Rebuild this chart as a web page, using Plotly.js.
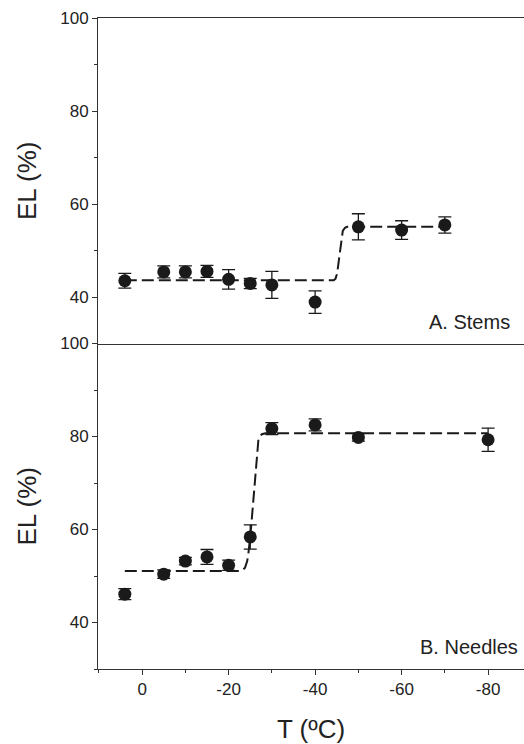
<!DOCTYPE html>
<html><head><meta charset="utf-8">
<script src="https://cdn.plot.ly/plotly-3.0.1.min.js"></script>
<style>html,body{margin:0;padding:0;background:#fff}#plot{width:524px;height:744px}</style>
</head><body><div id="plot"></div>
<script>
// Panel A: stems
const stemsT = [4, -5, -10, -15, -20, -25, -30, -40, -50, -60, -70];
const stemsEL = [43.5, 45.4, 45.4, 45.5, 43.8, 42.9, 42.6, 38.9, 55.1, 54.4, 55.5];
const stemsErr = [1.6, 1.3, 1.3, 1.3, 2.1, 1.1, 2.9, 2.4, 2.8, 2.0, 1.75];
const stemsFitT = [4, -44.3, -44.7, -45.1, -45.5, -45.9, -46.4, -46.9, -47.4, -71];
const stemsFitEL = [43.6, 43.6, 43.9, 45.1, 48, 50.8, 54.2, 54.9, 55.1, 55.1];

// Panel B: needles
const needlesT = [4, -5, -10, -15, -20, -25, -30, -40, -50, -80];
const needlesEL = [46.1, 50.4, 53.2, 54.1, 52.3, 58.4, 81.7, 82.5, 79.8, 79.3];
const needlesErr = [1.2, 0.9, 0.8, 1.6, 1.1, 2.6, 1.3, 1.3, 0.8, 2.5];
const needlesFitT = [4, -22.5, -23.2, -23.8, -24.3, -24.6, -25.1, -25.7, -26.4, -26.9, -27.3, -27.7, -28.5, -80];
const needlesFitEL = [51.1, 51.1, 51.3, 51.8, 53.2, 55.1, 59.4, 66.5, 75.1, 79.4, 80.1, 80.5, 80.7, 80.7];

const yTicks = [40, 60, 80, 100];
const xTicks = [0, -20, -40, -60, -80];
const panelLabels = ["A. Stems", "B. Needles"];

const ink = '#1a1a1a';
const axisCol = '#333';
const fitLine = {color: ink, width: 2, dash: '12px,5px', shape: 'linear'};
const marker = {symbol: 'circle', size: 13, color: ink};
const errStyle = arr => ({type: 'data', array: arr, visible: true, color: ink, thickness: 1.3, width: 6.5});

const traces = [
  {x: stemsFitT, y: stemsFitEL, xaxis: 'x2', yaxis: 'y2', mode: 'lines', line: fitLine, hoverinfo: 'skip'},
  {x: stemsT, y: stemsEL, xaxis: 'x2', yaxis: 'y2', mode: 'markers', marker: marker, error_y: errStyle(stemsErr)},
  {x: needlesFitT, y: needlesFitEL, xaxis: 'x', yaxis: 'y', mode: 'lines', line: fitLine, hoverinfo: 'skip'},
  {x: needlesT, y: needlesEL, xaxis: 'x', yaxis: 'y', mode: 'markers', marker: marker, error_y: errStyle(needlesErr)}
];

const font = {family: 'Arial, "Liberation Sans", sans-serif', color: '#222'};
const yBase = {
  range: [30, 100], tickvals: yTicks, ticks: 'outside', ticklen: 5, tickwidth: 1, tickcolor: axisCol,
  showline: true, linecolor: axisCol, linewidth: 1, showgrid: false, zeroline: false,
  tickfont: {size: 17, color: '#222'},
  minor: {dtick: 10, tick0: 0, ticks: 'outside', ticklen: 3, tickcolor: axisCol, showgrid: false},
  title: {text: 'EL (%)', font: {size: 26, color: '#222'}, standoff: 16}
};

const layout = {
  width: 524, height: 744,
  margin: {l: 98, r: 0, t: 18, b: 75},
  paper_bgcolor: '#fff', plot_bgcolor: '#fff',
  showlegend: false, font: font,
  xaxis: {
    range: [10.2, -88.3], tickvals: xTicks, ticktext: xTicks.map(String), anchor: 'y',
    ticks: 'outside', ticklen: 5, tickwidth: 1, tickcolor: axisCol,
    showline: true, linecolor: axisCol, linewidth: 1, showgrid: false, zeroline: false,
    tickfont: {size: 17, color: '#222'},
    minor: {dtick: 10, tick0: 0, ticks: 'outside', ticklen: 3, tickcolor: axisCol, showgrid: false},
    title: {text: 'T (ºC)', font: {size: 26, color: '#222'}, standoff: 24}
  },
  xaxis2: {
    range: [10.2, -88.3], anchor: 'y2', matches: 'x',
    showline: true, mirror: true, linecolor: axisCol, linewidth: 1,
    ticks: '', showticklabels: false, showgrid: false, zeroline: false
  },
  yaxis: Object.assign({}, yBase, {domain: [0, 0.5], anchor: 'x'}),
  yaxis2: Object.assign({}, yBase, {domain: [0.5, 1], anchor: 'x2'}),
  annotations: [
    {text: panelLabels[0], xref: 'paper', yref: 'y2 domain', x: 0.972, y: 0.066, xanchor: 'right', yanchor: 'middle', showarrow: false, font: {size: 20, color: '#222'}},
    {text: panelLabels[1], xref: 'paper', yref: 'y domain', x: 0.99, y: 0.067, xanchor: 'right', yanchor: 'middle', showarrow: false, font: {size: 20, color: '#222'}}
  ]
};

Plotly.newPlot('plot', traces, layout, {staticPlot: true, displayModeBar: false});
</script></body></html>
